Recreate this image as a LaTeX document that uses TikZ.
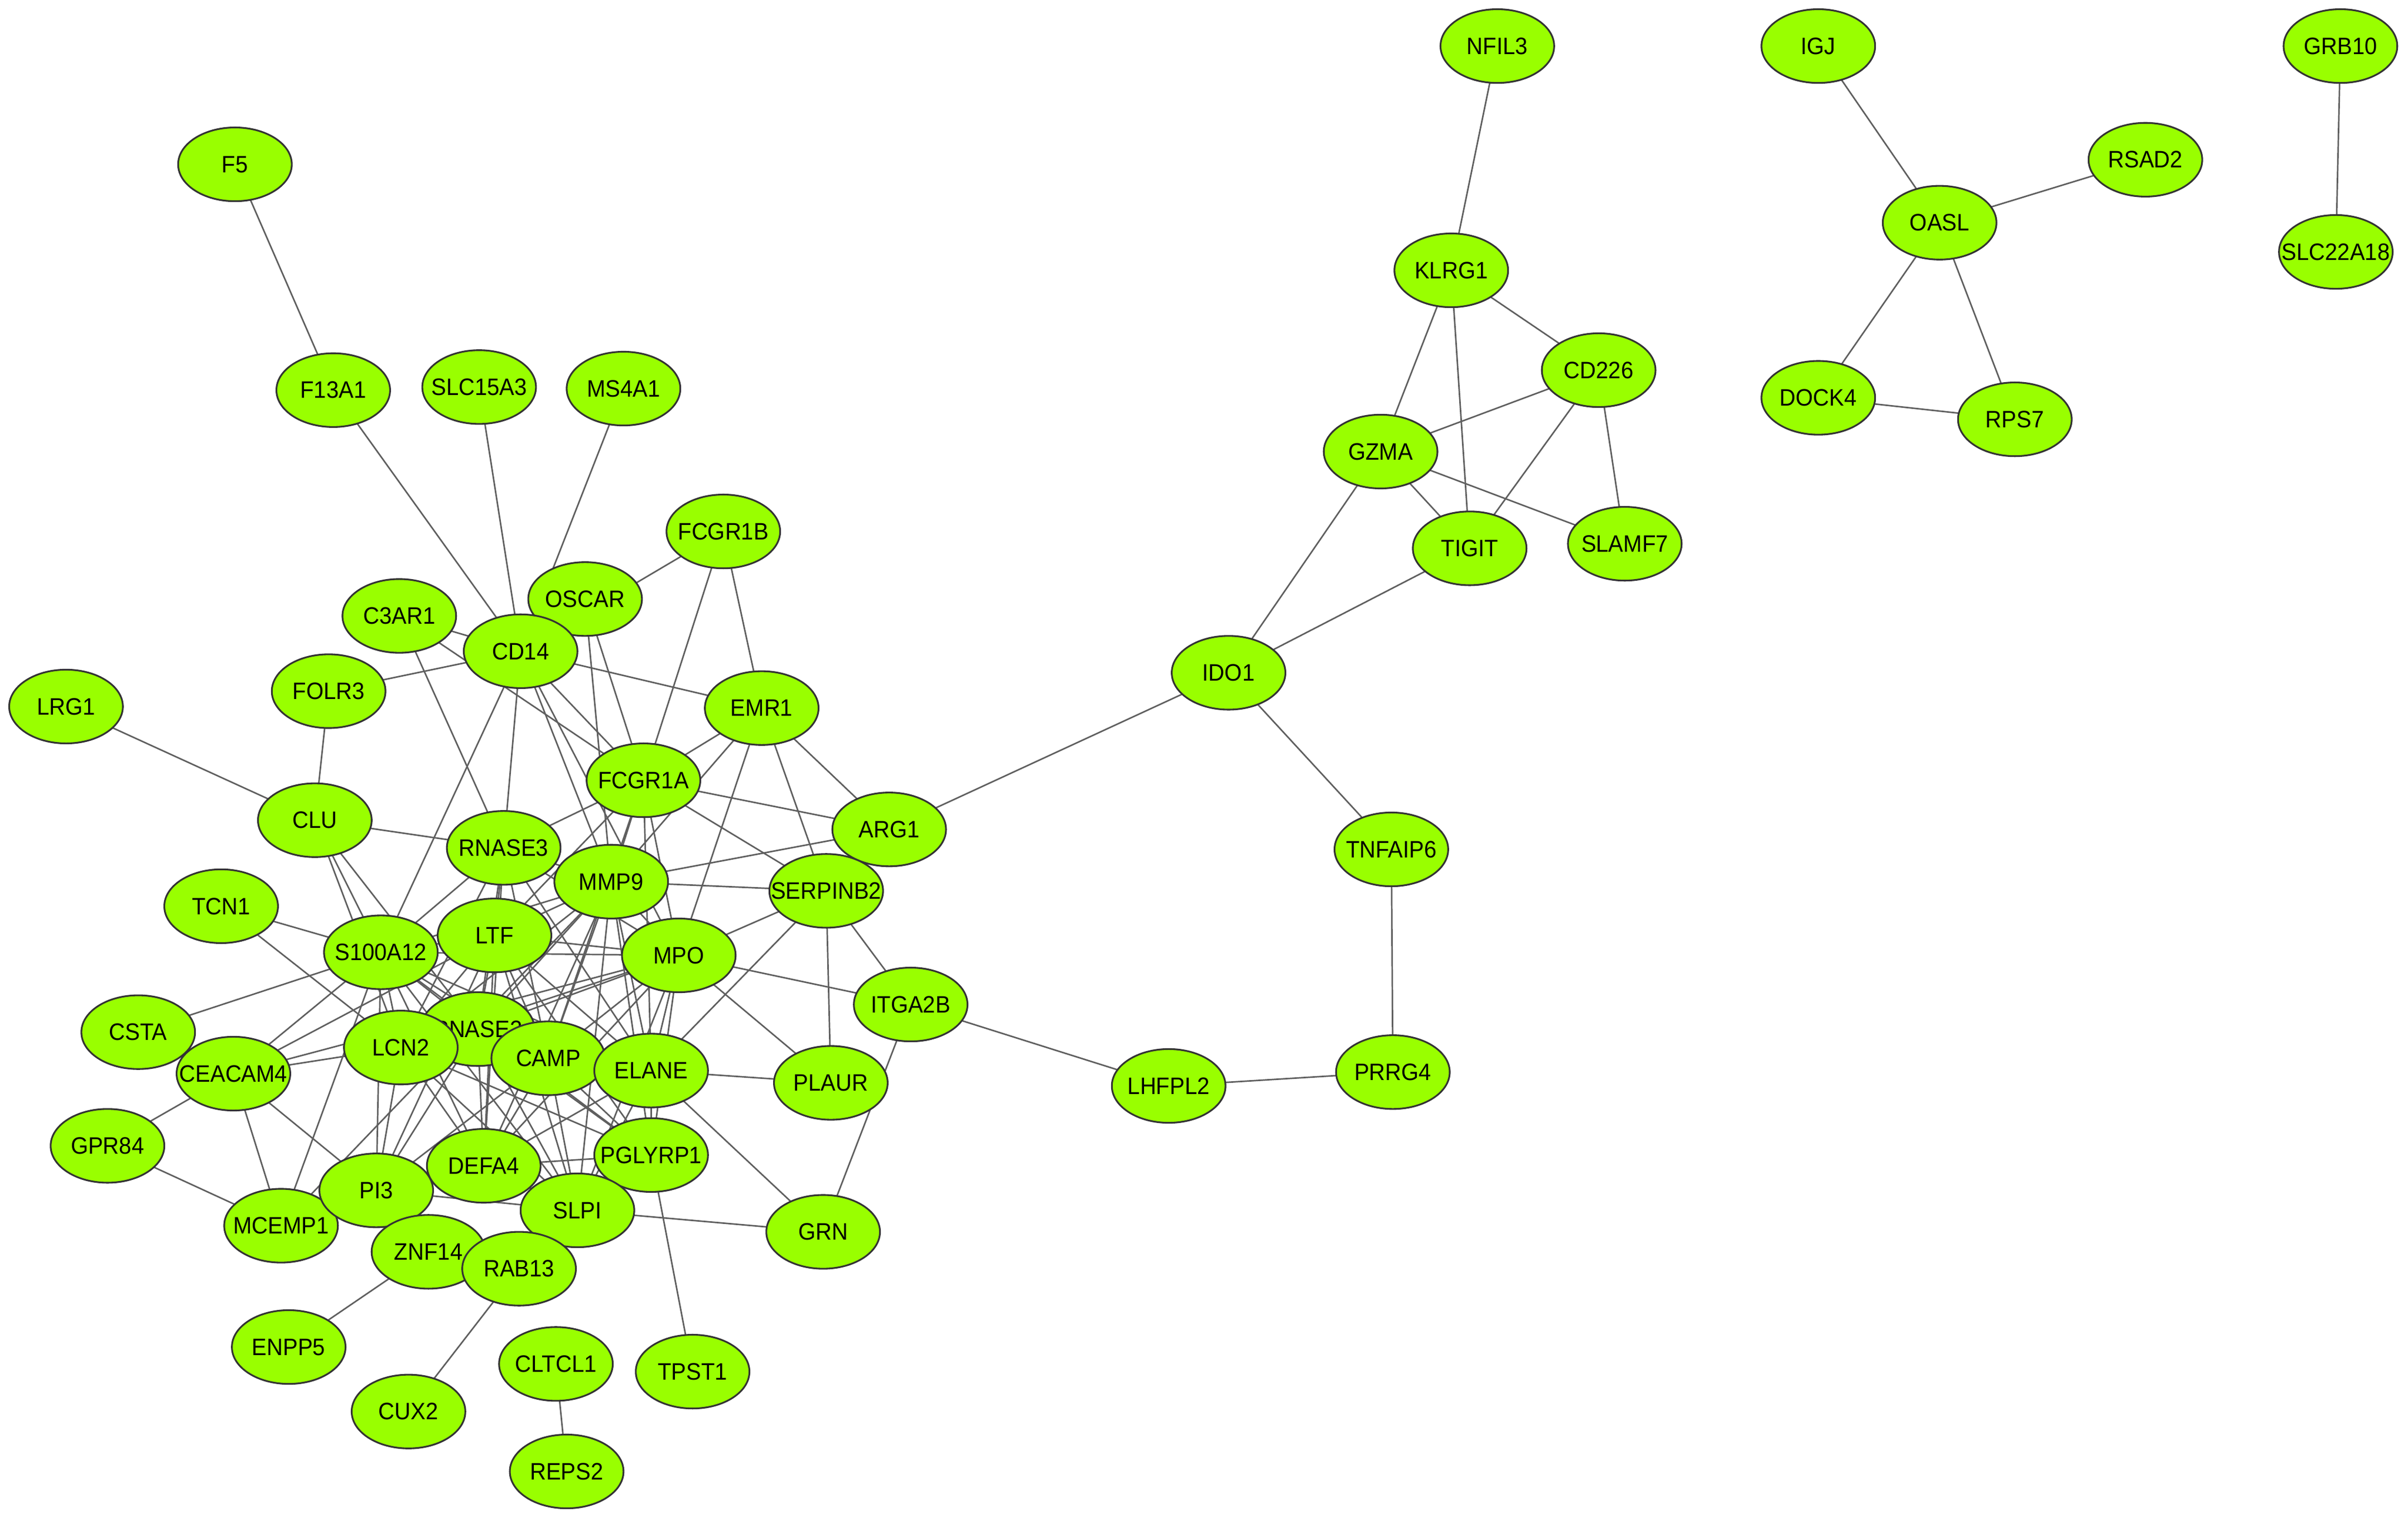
\documentclass[tikz,border=0pt]{standalone}
\usepackage{fontspec}
\usetikzlibrary{shapes.geometric}
\newfontfamily\genefont[FakeStretch=0.94]{Liberation Sans}
\definecolor{genegreen}{RGB}{153,255,0}
\definecolor{edgegray}{RGB}{95,95,95}
\pgfdeclarelayer{bg}
\pgfsetlayers{bg,main}
\tikzset{
  gene/.style={ellipse, draw=black!80, fill=genegreen, line width=0.8pt,
    minimum width=1.85cm, minimum height=1.2cm, inner sep=0pt,
    font={\genefont\fontsize{11}{13}\selectfont},
    execute at begin node={\hbox to 0pt\bgroup\hss},
    execute at end node={\hss\egroup}},
  edge/.style={draw=edgegray, line width=0.7pt}
}
\begin{document}
\begin{tikzpicture}[x=0.025cm, y=-0.025cm]
\useasboundingbox (0,0) rectangle (1568,988.3);
% top-left
\node[gene] (f5) at (153,107) {F5};
\node[gene] (f13a1) at (217,254) {F13A1};
\node[gene] (slc15a3) at (312,252) {SLC15A3};
\node[gene] (ms4a1) at (406,253) {MS4A1};
\node[gene] (fcgr1b) at (471,346) {FCGR1B};
\node[gene] (oscar) at (381,390) {OSCAR};
\node[gene] (c3ar1) at (260,401) {C3AR1};
\node[gene] (cd14) at (339,424) {CD14};
\node[gene] (folr3) at (214,450) {FOLR3};
\node[gene] (lrg1) at (43,460) {LRG1};
\node[gene] (emr1) at (496,461) {EMR1};
\node[gene] (fcgr1a) at (419,508) {FCGR1A};
\node[gene] (clu) at (205,534) {CLU};
\node[gene] (rnase3) at (328,552) {RNASE3};
\node[gene] (arg1) at (579,540) {ARG1};
\node[gene] (mmp9) at (398,574) {MMP9};
\node[gene] (serpinb2) at (538,580) {SERPINB2};
\node[gene] (tcn1) at (144,590) {TCN1};
\node[gene] (s100a12) at (248,620) {S100A12};
\node[gene] (ltf) at (322,609) {LTF};
\node[gene] (mpo) at (442,622) {MPO};
\node[gene] (itga2b) at (593,654) {ITGA2B};
\node[gene] (csta) at (90,672) {CSTA};
\node[gene] (rnase2) at (311,670) {RNASE2};
\node[gene] (lcn2) at (261,682) {LCN2};
\node[gene] (camp) at (357,689) {CAMP};
\node[gene] (elane) at (424,697) {ELANE};
\node[gene] (ceacam4) at (152,699) {CEACAM4};
\node[gene] (plaur) at (541,705) {PLAUR};
\node[gene] (gpr84) at (70,746) {GPR84};
\node[gene] (mcemp1) at (183,798) {MCEMP1};
\node[gene] (defa4) at (315,759) {DEFA4};
\node[gene] (pi3) at (245,775) {PI3};
\node[gene] (pglyrp1) at (424,752) {PGLYRP1};
\node[gene] (slpi) at (376,788) {SLPI};
\node[gene] (grn) at (536,802) {GRN};
\node[gene] (znf14) at (279,815) {ZNF14};
\node[gene] (rab13) at (338,826) {RAB13};
\node[gene] (enpp5) at (188,877) {ENPP5};
\node[gene] (cltcl1) at (362,888) {CLTCL1};
\node[gene] (tpst1) at (451,893) {TPST1};
\node[gene] (cux2) at (266,919) {CUX2};
\node[gene] (reps2) at (369,958) {REPS2};
% middle
\node[gene] (ido1) at (800,438) {IDO1};
\node[gene] (tnfaip6) at (906,553) {TNFAIP6};
\node[gene] (lhfpl2) at (761,707) {LHFPL2};
\node[gene] (prrg4) at (907,698) {PRRG4};
\node[gene] (nfil3) at (975,30) {NFIL3};
\node[gene] (klrg1) at (945,176) {KLRG1};
\node[gene] (cd226) at (1041,241) {CD226};
\node[gene] (gzma) at (899,294) {GZMA};
\node[gene] (tigit) at (957,357) {TIGIT};
\node[gene] (slamf7) at (1058,354) {SLAMF7};
% right
\node[gene] (igj) at (1184,30) {IGJ};
\node[gene] (oasl) at (1263,145) {OASL};
\node[gene] (rsad2) at (1397,104) {RSAD2};
\node[gene] (dock4) at (1184,259) {DOCK4};
\node[gene] (rps7) at (1312,273) {RPS7};
\node[gene] (grb10) at (1524,30) {GRB10};
\node[gene] (slc22a18) at (1521,164) {SLC22A18};

\begin{pgfonlayer}{bg}
\fill[white] (0,0) rectangle (1568,988.3);
\foreach \a/\b in {f5/f13a1, f13a1/cd14, slc15a3/cd14, ms4a1/cd14, fcgr1b/cd14,
  fcgr1b/fcgr1a, fcgr1b/emr1, c3ar1/cd14, c3ar1/fcgr1a, c3ar1/rnase3,
  folr3/cd14, folr3/clu, lrg1/clu, oscar/fcgr1a, oscar/mmp9,
  cd14/emr1, cd14/fcgr1a, cd14/rnase3, cd14/s100a12, cd14/mmp9, cd14/mpo,
  emr1/fcgr1a, emr1/arg1, emr1/serpinb2, emr1/mmp9, emr1/mpo,
  fcgr1a/arg1, fcgr1a/serpinb2, fcgr1a/rnase3, fcgr1a/mmp9, fcgr1a/mpo,
  fcgr1a/ltf, fcgr1a/camp, fcgr1a/elane,
  arg1/mmp9, arg1/ido1,
  serpinb2/mmp9, serpinb2/mpo, serpinb2/elane, serpinb2/plaur, serpinb2/itga2b,
  mpo/itga2b, mpo/plaur, mpo/ceacam4,
  itga2b/lhfpl2, itga2b/grn, elane/plaur, elane/grn, slpi/grn, pglyrp1/tpst1,
  clu/rnase3, clu/s100a12, clu/lcn2, clu/rnase2,
  tcn1/s100a12, tcn1/lcn2, csta/s100a12,
  ceacam4/s100a12, ceacam4/ltf, ceacam4/lcn2, ceacam4/mcemp1, ceacam4/pi3,
  gpr84/ceacam4, gpr84/mcemp1, mcemp1/s100a12, mcemp1/mmp9,
  pi3/s100a12, pi3/lcn2, pi3/defa4, pi3/slpi, pi3/ltf, pi3/camp, pi3/rnase2,
  znf14/enpp5, rab13/cux2, cltcl1/reps2,
  lhfpl2/prrg4, prrg4/tnfaip6, tnfaip6/ido1, ido1/gzma, ido1/tigit,
  gzma/klrg1, gzma/cd226, gzma/tigit, gzma/slamf7, klrg1/tigit, klrg1/cd226,
  klrg1/nfil3, cd226/tigit, cd226/slamf7,
  igj/oasl, oasl/rsad2, oasl/dock4, oasl/rps7, dock4/rps7, grb10/slc22a18,
  rnase3/s100a12, rnase3/ltf, rnase3/mmp9, rnase3/mpo, rnase3/lcn2,
  rnase3/camp, rnase3/elane, rnase3/defa4, rnase3/rnase2}
  \draw[edge] (\a.center) -- (\b.center);
% dense core
\foreach \a/\b in {s100a12/ltf, s100a12/mpo, s100a12/mmp9, s100a12/lcn2, s100a12/rnase2,
  s100a12/camp, s100a12/elane, s100a12/defa4, s100a12/pglyrp1, s100a12/slpi,
  ltf/mpo, ltf/mmp9, ltf/lcn2, ltf/rnase2, ltf/camp, ltf/elane, ltf/defa4, ltf/pglyrp1, ltf/slpi,
  mpo/mmp9, mpo/lcn2, mpo/rnase2, mpo/camp, mpo/elane, mpo/defa4, mpo/pglyrp1, mpo/slpi,
  mmp9/lcn2, mmp9/rnase2, mmp9/camp, mmp9/elane, mmp9/defa4, mmp9/pglyrp1, mmp9/slpi,
  lcn2/rnase2, lcn2/camp, lcn2/elane, lcn2/defa4, lcn2/pglyrp1, lcn2/slpi,
  rnase2/camp, rnase2/elane, rnase2/defa4, rnase2/pglyrp1, rnase2/slpi,
  camp/elane, camp/defa4, camp/pglyrp1, camp/slpi,
  elane/defa4, elane/pglyrp1, elane/slpi,
  defa4/pglyrp1, defa4/slpi, pglyrp1/slpi}
  \draw[edge] (\a.center) -- (\b.center);
\end{pgfonlayer}
\end{tikzpicture}
\end{document}
